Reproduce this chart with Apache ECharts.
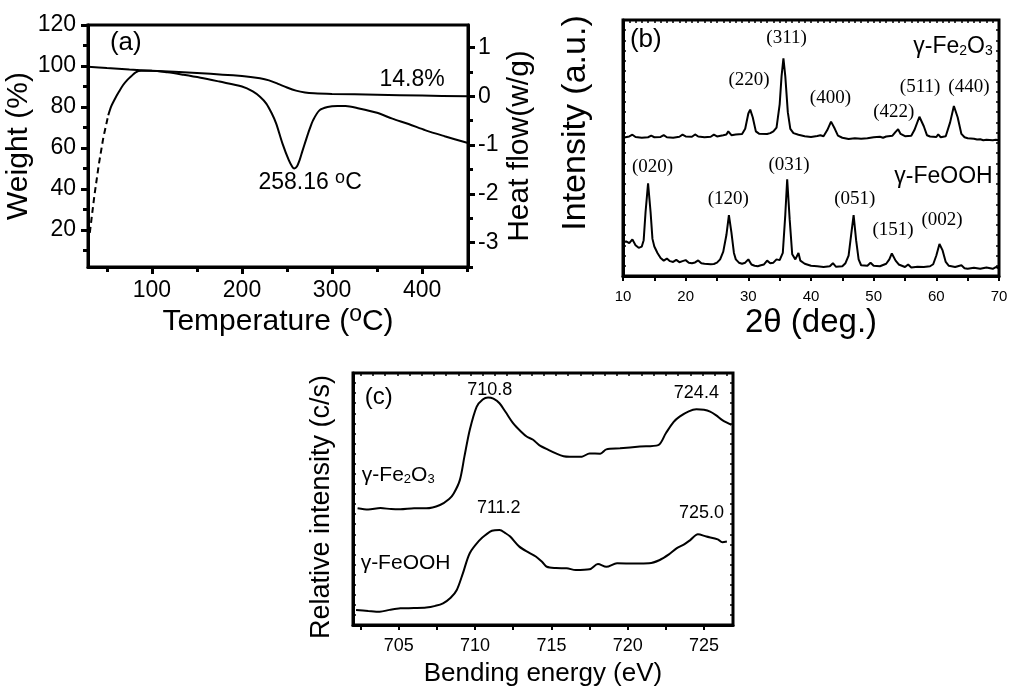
<!DOCTYPE html>
<html><head><meta charset="utf-8">
<script src="https://cdn.jsdelivr.net/npm/echarts@6/dist/echarts.min.js"></script>
<style>html,body{margin:0;padding:0;background:#fff}#c{width:1009px;height:690px}</style>
</head><body><div id="c"></div>
<script>
// ---------- Panel (a): TG / DSC ----------
const tgWeight = [[29,99.7],[50,99.0],[75,98.3],[100,97.7],[150,96.6],[200,95.1],[220,94.0],[230,93.0],[240,91.3],[250,89.5],[260,88.0],[270,87.1],[280,86.7],[300,86.4],[350,86.0],[400,85.6],[451,85.2]];
const dscDashed = [[31,-2.8],[36,-2.05],[41,-1.4],[46,-0.85],[51.5,-0.39]];
const dscSolid = [[51.5,-0.39],[55,-0.2],[59,-0.05],[63,0.08],[68,0.23],[73,0.34],[77,0.41],[82,0.49],[88,0.52],[100,0.52],[117,0.49],[135,0.44],[154,0.38],[175,0.3],[200,0.2],[212,0.1],[220,-0.01],[227,-0.15],[233,-0.35],[238,-0.56],[245,-0.97],[252,-1.31],[256,-1.45],[258,-1.48],[261,-1.44],[264,-1.31],[267,-1.13],[271,-0.9],[275,-0.68],[279,-0.49],[286,-0.29],[295,-0.22],[306,-0.2],[315,-0.2],[330,-0.25],[350,-0.34],[367,-0.46],[385,-0.57],[404,-0.70],[425,-0.82],[451,-0.96]];
const tempLabels = [100,200,300,400];
const tempMinor = [50,150,250,350,450];
const weightLabels = [20,40,60,80,100,120];
const weightMinor = [10,30,50,70,90,110];
const heatLabels = [-3,-2,-1,0,1];
const heatMinor = [-3.5,-2.5,-1.5,-0.5,0.5];
const tagA = [[53.3,111.2,'(a)']];
const notesA = [[388.9,93.2,'14.8%'],[275.6,42.9,'258.16 °C']];

// ---------- Panel (b): XRD ----------
const xrdFe2O3 = [[10,54.0],[11,54.5],[11.5,55.2],[12,54.3],[13,54.0],[14,54.2],[14.5,54.8],[15,54.2],[16,54.3],[16.5,55.0],[17,54.2],[18,54.0],[19,54.4],[19.5,55.2],[20,54.5],[21,54.4],[21.5,55.3],[22,54.5],[23,54.2],[24,54.4],[24.5,55.2],[25,54.5],[26,55.0],[26.5,55.3],[26.8,56.5],[27.3,55.0],[28,55.3],[29,55.5],[29.5,57.5],[30,63.5],[30.3,65.0],[30.7,62],[31.2,56.5],[31.7,55.6],[32,55.8],[33,55.5],[33.5,55.8],[34,56.5],[34.5,58.0],[35,67],[35.3,78],[35.6,85.0],[35.9,78],[36.3,64],[36.7,57.5],[37.2,55.8],[38,55.2],[39,54.6],[40,54.3],[41,54.7],[41.5,55.0],[42,54.6],[42.6,57],[43.2,60.3],[43.8,57.5],[44.3,54.8],[45,54.0],[46,53.5],[47,53.8],[48,53.6],[49,53.8],[50,54.2],[51,54.4],[51.5,54.0],[52,54.5],[53,54.8],[53.5,56.3],[53.9,57.3],[54.3,55.5],[55,54.6],[56,54.8],[56.5,57],[57.3,62.2],[58,58.5],[58.5,55],[59,54.5],[60,54.3],[60.3,55.3],[60.7,54.2],[61.5,54.6],[62.2,60],[62.8,66.4],[63.4,62],[64,55.5],[64.5,54.2],[65,53.8],[66,53.6],[66.5,53.3],[67,53.4],[67.5,53.0],[68,53.2],[69,53.0],[69.5,53.2],[70,53.0]];
const xrdFeOOH = [[10,13.4],[10.5,13.5],[11,12.8],[11.5,14.3],[12,12.0],[12.5,11.0],[13,11.5],[13.3,14],[13.6,25],[14.0,36.2],[14.4,25],[14.7,14.5],[15,11.5],[15.5,9.0],[16,7.0],[16.5,6.0],[17,6.8],[17.5,5.8],[18,5.5],[18.5,6.3],[19,5.4],[19.5,5.8],[20,6.2],[20.5,5.2],[21,5.0],[21.5,5.3],[22,6.1],[22.5,5.0],[23,4.8],[24,4.6],[24.5,4.7],[25,5.2],[25.5,6.5],[26,9.5],[26.5,16],[26.9,23.8],[27.3,17],[27.7,9],[28,6.5],[28.5,5.2],[29,4.8],[29.5,5.2],[30,6.5],[30.5,4.5],[31,4.0],[31.5,3.8],[32,4.2],[32.5,4.5],[33,6.0],[33.5,5.0],[34,5.2],[34.5,6.5],[35,6.2],[35.5,9],[35.9,24],[36.2,37.8],[36.6,22],[37,8.5],[37.5,6.5],[38,9.0],[38.3,6],[39,4.8],[40,4.0],[41,3.8],[42,3.5],[43,3.8],[43.5,5.0],[44,3.6],[45,3.8],[45.5,5],[46,8],[46.4,16],[46.8,23.8],[47.2,14],[47.6,6.5],[48,4.2],[49,4.0],[49.5,5.2],[50,4.0],[51,3.8],[52,4.8],[52.5,6.5],[52.9,8.8],[53.5,6.0],[54,4.5],[55,3.5],[55.5,4.5],[56,3.3],[57,3.6],[58,3.5],[59,3.8],[59.5,4.6],[60,8],[60.5,12.5],[61,10],[61.5,5.5],[62,4.0],[63,3.5],[64,4.2],[64.5,3.0],[65,2.8],[66,3.2],[67,2.8],[68,3.3],[69,2.8],[69.5,3.5],[70,3.0]];
const hklB = [[30.1,76.6,'(220)'],[36.1,93.0,'(311)'],[43.1,69.5,'(400)'],[53.2,64.1,'(422)'],[57.4,73.8,'(511)'],[65.2,73.8,'(440)'],
              [14.7,42.6,'(020)'],[26.8,30.1,'(120)'],[36.5,43.4,'(031)'],[47.0,30.1,'(051)'],[53.1,18.0,'(151)'],[60.9,21.9,'(002)']];
const tagB = [[11.1,92.2,'(b)']];
const samplesB = [[69.0,89.5,'γ-Fe2O3'],[69.0,38.7,'γ-FeOOH']];

// ---------- Panel (c): XPS ----------
const xpsFe2O3 = [[702.3,46.3],[703,45.8],[703.8,46.4],[704.5,46.0],[705.1,45.9],[706,46.3],[706.8,46.3],[707.7,47.6],[708.3,50.0],[708.6,52.2],[709.0,57.5],[709.3,66.8],[709.65,77.4],[710.1,86.6],[710.5,89.5],[710.85,90.3],[711.2,89.8],[711.6,88.0],[712.0,84.5],[712.5,80.0],[713.0,76.8],[713.4,74.7],[713.8,73.5],[714.2,71.4],[714.8,69.5],[715.3,68.1],[715.8,67.0],[716.2,66.8],[717.0,66.8],[717.5,68.1],[718.2,68.0],[718.6,69.7],[719.5,70.1],[720.8,70.8],[722.0,71.4],[722.5,76.1],[723.0,80.5],[723.4,82.7],[724.0,84.8],[724.5,85.6],[725.0,85.4],[725.4,84.7],[725.8,83.2],[726.2,81.3],[726.8,79.4]];
const xpsFeOOH = [[702.2,6.0],[703.0,5.6],[703.75,5.3],[704.4,6.0],[705.1,6.6],[706.0,6.7],[706.8,6.9],[707.4,7.6],[707.9,8.6],[708.4,10.8],[708.8,13.9],[709.2,20.5],[709.65,28.5],[710.3,33.7],[710.7,35.8],[711.1,37.4],[711.6,37.7],[712.0,36.4],[712.3,35.1],[712.9,31.1],[713.5,28.8],[714.0,27.1],[714.4,25.0],[714.7,23.1],[715.3,22.6],[716.0,22.5],[716.6,21.8],[717.5,22.1],[718.05,24.2],[718.6,23.1],[719.3,24.5],[720.5,24.4],[721.4,24.5],[722.1,25.8],[722.7,28.0],[723.2,30.4],[723.7,32.0],[724.1,33.7],[724.6,36.0],[725.15,35.1],[725.9,34.0],[726.2,32.8],[726.5,33.1]];
const energyLabels = [705,710,715,720,725];
const energyMinor = [702.5,707.5,712.5,717.5,722.5];
const tagC = [[702.77,90.5,'(c)']];
const peaksC = [[710.96,93.3,'710.8'],[724.5,92.1,'724.4'],[711.55,46.4,'711.2'],[724.84,44.4,'725.0']];
const samplesC = [[702.58,59.5,'γ-Fe2O3'],[702.5,24.6,'γ-FeOOH']];

// ---------- helpers ----------
const SANS = 'Liberation Sans, Arial, sans-serif';
const SERIF = 'Liberation Serif, Times New Roman, serif';
const K = '#000';
function rt(s){ return s.replace(/°/g,'{sup|o}').replace(/([A-Za-z])(\d)/g,'$1{s|$2}'); }
function rich(fs, family){
  return { s:{fontSize:Math.round(fs*0.6), fontFamily:family||SANS, color:K, verticalAlign:'bottom'},
           sup:{fontSize:Math.round(fs*0.78), fontFamily:family||SANS, color:K, verticalAlign:'bottom', padding:[0,0,Math.round(fs*0.46),0]} };
}
function range(a,b,step){ const r=[]; for(let v=a; v<=b+1e-9; v+=step) r.push(+v.toFixed(4)); return r; }
function tickAxis(grid, position, min, max, values, len, inside, width){
  return { type:'value', gridIndex:grid, position:position, min:min, max:max,
    axisLine:{show:false, onZero:false}, splitLine:{show:false}, axisLabel:{show:false},
    axisTick:{show:true, customValues:values, length:len, inside:!!inside, lineStyle:{color:K, width:width}} };
}
function lineSeries(xi, yi, data, width, dashed){
  return { type:'line', xAxisIndex:xi, yAxisIndex:yi, data:data, symbol:'none', smooth:false,
    lineStyle:{color:K, width:width, type: dashed ? [6,4] : 'solid'}, silent:true, z:3 };
}
function textSeries(xi, yi, items, fs, family, align){
  return { type:'scatter', xAxisIndex:xi, yAxisIndex:yi, symbolSize:0, silent:true, z:6,
    itemStyle:{color:K},
    data: items.map(d => ({value:[d[0], d[1]], name:d[2]})),
    label:{show:true, position:'inside', align:align, verticalAlign:'middle', color:K, opacity:1,
      textBorderWidth:0, textShadowBlur:0,
      fontSize:fs, fontFamily:family, formatter: p => rt(p.name), rich:rich(fs, family)} };
}
const gridCommon = {show:true, borderColor:K, borderWidth:3, backgroundColor:'transparent', containLabel:false, outerBoundsMode:'none'};
const line3 = {show:true, onZero:false, lineStyle:{color:K, width:3}};

const option = {
  animation:false,
  backgroundColor:'#fff',
  grid:[
    Object.assign({left:88, top:25, width:380, height:242}, gridCommon),
    Object.assign({left:623, top:20, width:376, height:256}, gridCommon),
    Object.assign({left:353, top:373, width:380, height:252}, gridCommon)
  ],
  xAxis:[
    { type:'value', gridIndex:0, position:'bottom', min:29, max:451,
      axisLine:line3, splitLine:{show:false},
      axisTick:{show:true, customValues:tempLabels, length:7, lineStyle:{color:K, width:3}},
      axisLabel:{customValues:tempLabels, fontSize:23, fontFamily:SANS, color:K, margin:12},
      name:rt('Temperature (°C)'), nameLocation:'middle', nameGap:31,
      nameTextStyle:{fontSize:30, fontFamily:SANS, color:K, rich:rich(30)} },
    tickAxis(0,'bottom',29,451,tempMinor,5,false,3),
    { type:'value', gridIndex:1, position:'bottom', min:10, max:70, interval:10,
      axisLine:line3, splitLine:{show:false},
      axisTick:{show:true, length:5, lineStyle:{color:K, width:2}},
      minorTick:{show:true, splitNumber:2, length:5, lineStyle:{color:K, width:2}},
      minorSplitLine:{show:false},
      axisLabel:{fontSize:15, fontFamily:SANS, color:K, margin:13},
      name:'2θ (deg.)', nameLocation:'middle', nameGap:30,
      nameTextStyle:{fontSize:33, fontFamily:SANS, color:K} },
    tickAxis(1,'top',10,70,range(10,70,1),3,true,1.5),
    { type:'value', gridIndex:2, position:'bottom', min:702, max:726.9,
      axisLine:line3, splitLine:{show:false},
      axisTick:{show:true, customValues:energyLabels.concat(energyMinor), length:5, lineStyle:{color:K, width:2}},
      axisLabel:{customValues:energyLabels, fontSize:18, fontFamily:SANS, color:K, margin:12},
      name:'Bending energy (eV)', nameLocation:'middle', nameGap:36,
      nameTextStyle:{fontSize:26, fontFamily:SANS, color:K} },
    tickAxis(2,'top',702,726.9,range(702.5,726.5,0.8),3,true,1.5)
  ],
  yAxis:[
    { type:'value', gridIndex:0, position:'left', min:2, max:120,
      axisLine:line3, splitLine:{show:false},
      axisTick:{show:true, customValues:weightLabels, length:7, lineStyle:{color:K, width:3}},
      axisLabel:{customValues:weightLabels, fontSize:23, fontFamily:SANS, color:K, margin:12},
      name:'Weight (%)', nameLocation:'middle', nameGap:45, nameRotate:90,
      nameTextStyle:{fontSize:30, fontFamily:SANS, color:K} },
    tickAxis(0,'left',2,120,weightMinor,5,false,3),
    { type:'value', gridIndex:0, position:'right', min:-3.5, max:1.46,
      axisLine:line3, splitLine:{show:false},
      axisTick:{show:true, customValues:heatLabels, length:7, lineStyle:{color:K, width:3}},
      axisLabel:{customValues:heatLabels, fontSize:23, fontFamily:SANS, color:K, margin:10},
      name:'Heat flow(w/g)', nameLocation:'middle', nameGap:37, nameRotate:90,
      nameTextStyle:{fontSize:30, fontFamily:SANS, color:K} },
    tickAxis(0,'right',-3.5,1.46,heatMinor,5,false,3),
    { type:'value', gridIndex:1, position:'left', min:0, max:100,
      axisLine:line3, splitLine:{show:false},
      axisTick:{show:true, customValues:range(4,96,4), length:3, inside:true, lineStyle:{color:K, width:1.5}},
      axisLabel:{show:false},
      name:'Intensity (a.u.)', nameLocation:'middle', nameGap:30, nameRotate:90,
      nameTextStyle:{fontSize:34, fontFamily:SANS, color:K, padding:[0,0,0,50]} },
    tickAxis(1,'right',0,100,range(4,96,4),3,true,1.5),
    { type:'value', gridIndex:2, position:'left', min:0, max:100,
      axisLine:line3, splitLine:{show:false},
      axisTick:{show:true, customValues:range(4,96,4), length:3, inside:true, lineStyle:{color:K, width:1.5}},
      axisLabel:{show:false},
      name:'Relative intensity (c/s)', nameLocation:'middle', nameGap:18, nameRotate:90,
      nameTextStyle:{fontSize:27, fontFamily:SANS, color:K, padding:[0,16,0,0]} },
    tickAxis(2,'right',0,100,range(4,96,4),3,true,1.5)
  ],
  series:[
    Object.assign(lineSeries(0,0,tgWeight,2), {smooth:0.3}),
    lineSeries(0,2,dscDashed,2,true),
    Object.assign(lineSeries(0,2,dscSolid,2), {smooth:0.3}),
    textSeries(0,0,tagA,26,SANS,'left'),
    textSeries(0,0,notesA,23,SANS,'center'),
    lineSeries(2,4,xrdFe2O3,2),
    lineSeries(2,4,xrdFeOOH,2),
    textSeries(2,4,hklB,19,SERIF,'center'),
    textSeries(2,4,tagB,26,SANS,'left'),
    textSeries(2,4,samplesB,23,SANS,'right'),
    Object.assign(lineSeries(4,6,xpsFe2O3,2), {smooth:0.3}),
    Object.assign(lineSeries(4,6,xpsFeOOH,2), {smooth:0.3}),
    textSeries(4,6,tagC,24,SANS,'left'),
    textSeries(4,6,peaksC,18,SANS,'center'),
    textSeries(4,6,samplesC,21,SANS,'left')
  ]
};
const chart = echarts.init(document.getElementById('c'), null, {renderer:'canvas'});
chart.setOption(option);
</script></body></html>
